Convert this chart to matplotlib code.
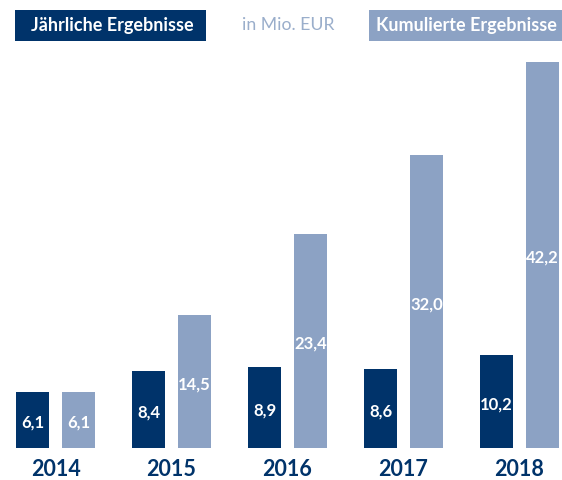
import numpy as np
import matplotlib.pyplot as plt
from matplotlib.patches import Rectangle

years = ['2014', '2015', '2016', '2017', '2018']
jaehrlich = [6.1, 8.4, 8.9, 8.6, 10.2]
kumuliert = [6.1, 14.5, 23.4, 32.0, 42.2]

dark = '#00336A'
light = '#8CA2C4'

plt.rcParams['font.family'] = ['Lato', 'DejaVu Sans']

W, H = 562, 480


def fmt(v):
    return f'{v:.1f}'.replace('.', ',')


fig = plt.figure(figsize=(W / 100, H / 100), dpi=100)
ax = fig.add_axes([0, 32 / H, 1, 386 / H])

x = np.arange(len(years))
off = 23 / 116
w = 33 / 116
ax.bar(x - off, jaehrlich, w, color=dark)
ax.bar(x + off, kumuliert, w, color=light)

for xi, v in zip(x, jaehrlich):
    ax.text(xi - off, v / 2 - 0.3, fmt(v), ha='center', va='center',
            color='white', fontsize=12, fontweight='bold')
for xi, v in zip(x, kumuliert):
    ax.text(xi + off, v / 2 - 0.3, fmt(v), ha='center', va='center',
            color='white', fontsize=12, fontweight='bold')

ax.set_xlim(-55.5 / 116, (W - 55.5) / 116)
ax.set_ylim(0, 42.2)
ax.set_xticks(x)
ax.set_xticklabels(years, fontsize=15.5, fontweight='bold', color=dark)
ax.tick_params(axis='x', length=0, pad=8)
ax.set_yticks([])
for s in ax.spines.values():
    s.set_visible(False)

# header boxes
fig.patches.append(Rectangle((15 / W, 1 - 41 / H), 191 / W, 31 / H,
                             transform=fig.transFigure, fc=dark, ec='none'))
fig.patches.append(Rectangle((369 / W, 1 - 41 / H), 193 / W, 31 / H,
                             transform=fig.transFigure, fc=light, ec='none'))
fig.text(112.5 / W, 1 - 25.5 / H, 'Jährliche Ergebnisse', ha='center', va='center',
         color='white', fontsize=13, fontweight='bold')
fig.text(288 / W, 1 - 25.5 / H, 'in Mio. EUR', ha='center', va='center',
         color='#9AAECB', fontsize=12.7)
fig.text(466.5 / W, 1 - 25.5 / H, 'Kumulierte Ergebnisse', ha='center', va='center',
         color='white', fontsize=13, fontweight='bold')

fig.savefig('out.png', dpi=100)
